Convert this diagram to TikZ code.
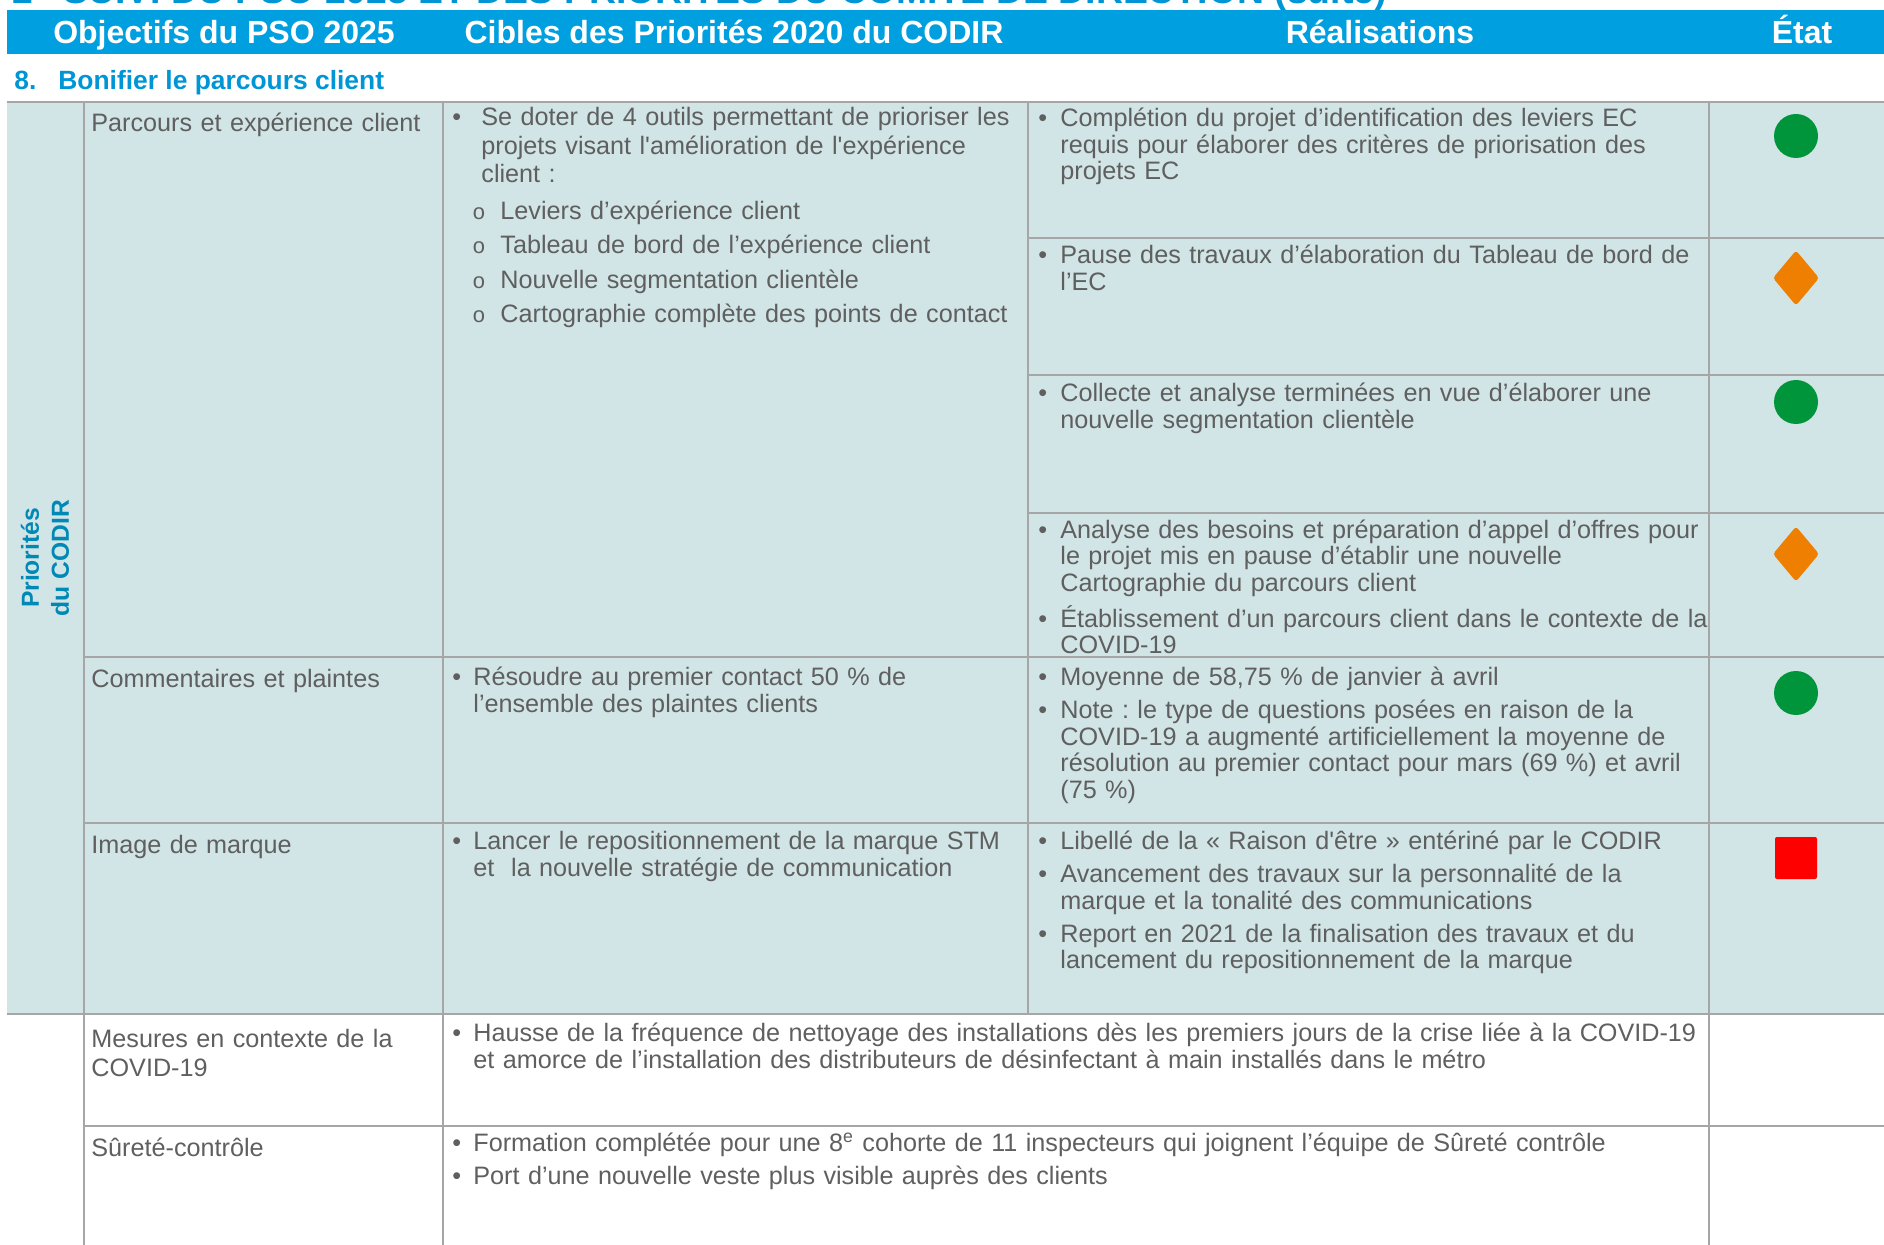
\documentclass[tikz,border=0pt]{standalone}
\usepackage{fontspec}
\setmainfont{Liberation Sans}
\setmonofont{Liberation Mono}
\frenchspacing
\definecolor{bandeau}{RGB}{0,159,223}
\definecolor{fondtab}{RGB}{209,228,230}
\definecolor{gristexte}{RGB}{95,95,95}
\definecolor{gristrait}{RGB}{166,166,166}
\definecolor{titrebleu}{RGB}{0,150,214}
\definecolor{codir}{RGB}{0,137,181}
\definecolor{etatvert}{RGB}{0,149,58}
\definecolor{etatorange}{RGB}{238,127,0}
\definecolor{etatrouge}{RGB}{255,0,0}
% 带悬挂缩进的项目符号
\newcommand{\puce}[2][10.5pt]{\begingroup\let\\\newline
  \hangindent=#1\hangafter=1\noindent
  \makebox[#1][l]{\textbullet}#2\par\endgroup}
% 二级项目(o)
\newcommand{\souspuce}[1]{\hangindent=14pt\hangafter=1\noindent
  \makebox[14pt][l]{\ttfamily\fontsize{11}{11}\selectfont o}#1\par}

\begin{document}
\begin{tikzpicture}[
  x=0.5pt, y=-0.5pt,
  entete/.style={anchor=base, text=white, font=\bfseries\fontsize{16}{16}\selectfont},
  cellule/.style={anchor=base west, inner sep=0pt, text width=#1,
    text=gristexte, font=\fontsize{12.6}{13.25}\selectfont,
    execute at begin node={\setlength{\parindent}{0pt}\setlength{\parskip}{3.25pt}}},
  filet/.style={draw=gristrait, line width=1.25pt},
  ]
  \useasboundingbox (0,0) rectangle (1884,1245);
  \clip (0,0) rectangle (1884,1245);

  % 被截断的页标题
  \node[anchor=base west, inner sep=0pt, text=titrebleu,
  font=\bfseries\fontsize{18.7}{18.7}\selectfont] (titre) at (12,4)
  {2\hspace{15pt}SUIVI DU PSO 2025 ET DES PRIORITÉS DU COMITÉ DE DIRECTION (suite)};

  % 标题栏
  \fill[bandeau] (7,10) rectangle (1884,54);
  \node[entete] (h1) at (224,44) {Objectifs du PSO 2025};
  \node[entete] (h2) at (734,44) {Cibles des Priorités 2020 du CODIR};
  \node[entete] (h3) at (1380,44) {Réalisations};
  \node[entete] (h4) at (1802,44) {État};

  % 小节标题
  \node[anchor=base west, inner sep=0pt, text=titrebleu,
  font=\bfseries\fontsize{13.2}{13.2}\selectfont] (section) at (14,90)
  {\makebox[22pt][l]{8.}Bonifier le parcours client};

  % 表格底色
  \fill[fondtab] (7,102) rectangle (1884,1014);

  % 横线
  \foreach \xa/\ya in {7/102, 84/657, 84/823, 7/1014, 84/1126,
    1028/238, 1028/375, 1028/513}
  \draw[filet] (\xa,\ya) -- (1884,\ya);
  % 竖线
  \foreach \xx/\ya/\yb in {84/102/1245, 443/102/1245, 1028/102/1014,
    1709/102/1245}
  \draw[filet] (\xx,\ya) -- (\xx,\yb);

  % 左侧竖排文字
  \node[rotate=90, align=center, text=codir,
  font=\bfseries\fontsize{12.3}{15}\selectfont] (codir) at (45,558)
  {Priorités\\du CODIR};

  % 第一列
  \node[cellule=170pt] (parcours) at (91,131.5) {Parcours et expérience client};
  \node[cellule=170pt] (plaintes) at (91,687.5) {Commentaires et plaintes};
  \node[cellule=170pt] (marque) at (91,853.5) {Image de marque};
  \node[cellule=170pt, font=\fontsize{12.6}{14.5}\selectfont] (mesures)
  at (91,1047) {Mesures en contexte de la\\COVID-19};
  \node[cellule=170pt] (surete) at (91,1156.5) {Sûreté-contrôle};

  % 第二列
  \node[cellule=290pt, font=\fontsize{12.6}{14.35}\selectfont] (outils)
  at (452,125.5) {\puce[14.5pt]{Se doter de 4 outils permettant de prioriser les\\
    projets visant l\textquotesingle amélioration de l\textquotesingle expérience\\client :}};
  \node[cellule=290pt, font=\fontsize{12.6}{17.25}\selectfont,
  execute at begin node={\setlength{\parindent}{0pt}\setlength{\parskip}{0pt}}]
  (liste) at (472,219.5)
  {\souspuce{Leviers d’expérience client}
    \souspuce{Tableau de bord de l’expérience client}
    \souspuce{Nouvelle segmentation clientèle}
    \souspuce{Cartographie complète des points de contact}};
  \node[cellule=290pt] (resoudre) at (452,685.5)
  {\puce{Résoudre au premier contact 50 \% de\\l’ensemble des plaintes clients}};
  \node[cellule=290pt] (lancer) at (452,849.5)
  {\puce{Lancer le repositionnement de la marque STM\\et\ \ la nouvelle stratégie de communication}};
  \node[cellule=630pt] (hausse) at (452,1041.5)
  {\puce{Hausse de la fréquence de nettoyage des installations dès les premiers jours de la crise liée à la COVID-19\\
    et amorce de l’installation des distributeurs de désinfectant à main installés dans le métro}};
  \node[cellule=630pt] (formation) at (452,1151.5)
  {\puce{Formation complétée pour une 8\textsuperscript{e} cohorte de 11 inspecteurs qui joignent l’équipe de Sûreté contrôle}
    \puce{Port d’une nouvelle veste plus visible auprès des clients}};

  % 第三列
  \node[cellule=335pt] (r1) at (1038,127)
  {\puce[11pt]{Complétion du projet d’identification des leviers EC\\
    requis pour élaborer des critères de priorisation des\\projets EC}};
  \node[cellule=335pt] (r2) at (1038,264)
  {\puce[11pt]{Pause des travaux d’élaboration du Tableau de bord de\\l’EC}};
  \node[cellule=335pt] (r3) at (1038,402)
  {\puce[11pt]{Collecte et analyse terminées en vue d’élaborer une\\nouvelle segmentation clientèle}};
  \node[cellule=335pt] (r4) at (1038,538.5)
  {\puce[11pt]{Analyse des besoins et préparation d’appel d’offres pour\\
    le projet mis en pause d’établir une nouvelle\\Cartographie du parcours client}
    \puce[11pt]{Établissement d’un parcours client dans le contexte de la\\COVID-19}};
  \node[cellule=335pt] (r5) at (1038,685.5)
  {\puce[11pt]{Moyenne de 58,75 \% de janvier à avril}
    \puce[11pt]{Note : le type de questions posées en raison de la\\
    COVID-19 a augmenté artificiellement la moyenne de\\
    résolution au premier contact pour mars (69 \%) et avril\\(75 \%)}};
  \node[cellule=335pt] (r6) at (1038,849.5)
  {\puce[11pt]{Libellé de la «~Raison d\textquotesingle être~» entériné par le CODIR}
    \puce[11pt]{Avancement des travaux sur la personnalité de la\\marque et la tonalité des communications}
    \puce[11pt]{Report en 2021 de la finalisation des travaux et du\\lancement du repositionnement de la marque}};

  % 状态标记
  \foreach \yy in {136, 402, 693}
  \fill[etatvert] (1796,\yy) circle[radius=22];
  \foreach \yy in {278, 554}
  \fill[etatorange, rounded corners=1.5pt] (1796,\yy) +(0,-27.5) -- +(23,0)
  -- +(0,27.5) -- +(-23,0) -- cycle;
  \fill[etatrouge, rounded corners=1pt] (1775,837) rectangle (1817,879);
\end{tikzpicture}
\end{document}
